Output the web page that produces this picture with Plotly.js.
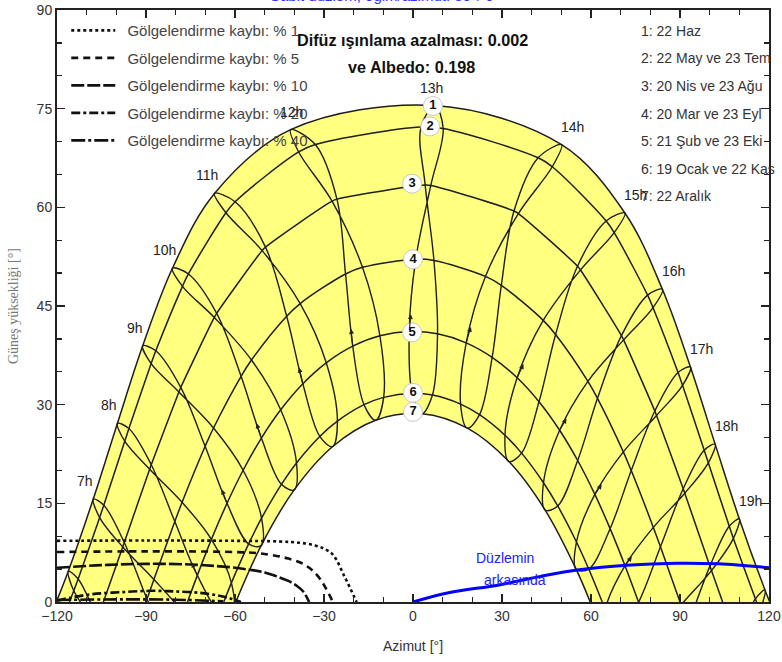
<!DOCTYPE html>
<html><head><meta charset="utf-8">
<script src="https://cdn.plot.ly/plotly-3.0.1.min.js"></script>
<style>body{margin:0;background:#fff}#c{width:782px;height:662px}</style>
</head><body><div id="c"></div>
<script>
// ---- hour of day (legal time) for the sun positions below
const hours = [6,7,8,9,10,11,12,13,14,15,16,17,18,19,20];

// ---- sun position (azimuth, elevation) per date
const az_22Haz = [-116.2,-107.78,-99.64,-91.11,-81.08,-66.91,-41.25,7.42,50.10,71.42,84.06,93.52,101.84,110.00,118.63];
const el_22Haz = [4.68,15.65,27.15,38.94,50.74,62.11,71.81,75.47,69.52,59.14,47.54,35.72,24.00,12.63,1.84];
const az_22May = [-112.87,-104.23,-95.76,-86.69,-75.70,-59.95,-32.93,10.17,46.94,67.81,80.92,90.86,99.55,108.0,116.92];
const el_22May = [3.5,14.72,26.37,38.19,49.87,60.86,69.55,71.97,66.17,56.14,44.74,32.94,21.16,9.67,-1.27];
const az_23Tem = [-114.35,-105.62,-97.17,-88.26,-77.70,-63.06,-38.54,2.67,42.20,65.11,79.08,89.35,98.16,106.61,115.40];
const el_23Tem = [1.72,12.84,24.44,36.25,47.99,59.17,68.42,72.2,67.53,57.92,46.65,34.88,23.08,11.52,0.48];
const az_20Nis = [-106.42,-97.32,-88.23,-78.29,-66.18,-49.72,-25.64,6.00,35.52,56.45,70.99,82.09,91.61,100.61,109.90];
const el_20Nis = [-2.52,9.05,20.87,32.62,43.89,53.95,61.25,63.33,59.05,50.48,39.85,28.35,16.54,4.77,-6.64];
const az_23Agu = [-106.96,-97.84,-88.77,-78.91,-66.98,-50.86,-27.29,4.11,34.04,55.45,70.26,81.51,91.08,100.09,109.34];
const el_23Agu = [-3.18,8.37,20.18,31.94,43.26,53.42,60.94,63.38,59.44,51.05,40.50,29.03,17.22,5.45,-5.99];
const az_20Mar = [-98.98,-89.65,-80.29,-70.07,-57.95,-42.58,-22.74,0.93,24.42,43.90,58.96,70.90,81.02,90.35,99.71];
const el_20Mar = [-11.34,0.45,12.23,23.67,34.31,43.44,49.86,52.12,49.50,42.82,33.55,22.82,11.34,-0.45,-12.23];
const az_23Eyl = [-96.59,-87.33,-77.83,-67.24,-54.45,-38.03,-17.03,7.06,29.77,48.07,62.19,73.57,83.41,92.67,102.17];
const el_23Eyl = [-8.39,3.43,15.16,26.45,36.79,45.37,50.88,51.91,48.14,40.67,30.96,19.98,8.39,-3.43,-15.16];
const az_21Sub = [-90.92,-81.86,-72.70,-62.69,-51.10,-37.13,-20.31,-1.27,17.93,35.11,49.43,61.30,71.46,80.69,89.72];
const el_21Sub = [-19.29,-7.49,4.05,15.01,24.92,33.18,38.89,41.12,39.40,34.09,26.11,16.36,5.52,-5.96,-17.75];
const az_23Eki = [-86.44,-77.43,-67.95,-57.26,-44.60,-29.24,-11.15,8.27,26.68,42.48,55.51,66.44,76.05,85.09,94.31];
const el_23Eki = [-13.49,-1.78,9.52,20.03,29.22,36.36,40.47,40.77,37.19,30.45,21.51,11.15,-0.05,-11.72,-23.55];
const az_19Oca = [-82.19,-73.77,-65.04,-55.41,-44.36,-31.42,-16.51,-0.25,16.04,31.00,43.99,55.10,64.76,73.51,81.93];
const el_19Oca = [-24.1,-12.53,-1.45,8.83,17.89,25.17,30.00,31.73,30.09,25.36,18.13,9.12,-1.13,-12.19,-23.75];
const az_22Kas = [-78.70,-70.23,-61.21,-51.05,-39.27,-25.48,-9.89,6.56,22.43,36.61,48.79,59.24,68.46,76.99,85.48];
const el_22Kas = [-19.27,-7.88,2.91,12.74,21.14,27.50,31.11,31.46,28.48,22.63,14.60,5.01,-5.62,-16.92,-28.6];
const az_22Ara = [-77.69,-69.52,-60.86,-51.19,-40.06,-27.16,-12.56,3.01,18.33,32.33,44.54,55.05,64.28,72.69,80.83];
const el_22Ara = [-23.35,-11.99,-1.25,8.57,17.04,23.61,27.64,28.63,26.43,21.35,13.98,4.93,-5.29,-16.3,-27.81];

// ---- sunrise / sunset azimuth of each of the 7 date curves (elevation 0)
const horizonAz = [120.26,115.81,104.37,90.0,76.01,63.79,59.74];
// ---- curve number labels
const curveLabels = ['1','2','3','4','5','6','7'];
const curveLabelAz = [6.7,5.8,-0.3,0,-0.3,0,0];
const curveLabelEl = [75.4,72.3,63.6,52.1,41.0,31.8,28.9];
const dateList = ['1: 22 Haz','2: 22 May ve 23 Tem','3: 20 Nis ve 23 Ağu','4: 20 Mar ve 23 Eyl','5: 21 Şub ve 23 Eki','6: 19 Ocak ve 22 Kas','7: 22 Aralık'];

// ---- shading loss curves (horizon / near shading)
const lossNames = ['Gölgelendirme kaybı: % 1','Gölgelendirme kaybı: % 5','Gölgelendirme kaybı: % 10','Gölgelendirme kaybı: % 20','Gölgelendirme kaybı: % 40'];
const loss1_az = [-120,-90,-60,-45,-38,-33,-30,-27,-23,-19];
const loss1_el = [9.3,9.35,9.3,9.2,9.0,8.6,8.1,7.2,3.8,0];
const loss5_az = [-120,-90,-60,-52,-46,-42,-38,-35,-33,-31,-29.5,-27];
const loss5_el = [7.6,7.7,7.6,7.4,7.0,6.6,6.0,5.2,4.4,3.3,2.2,0];
const loss10_az = [-120,-105,-90,-75,-62,-55,-50,-46,-42,-39,-37,-35];
const loss10_el = [5.2,5.6,5.8,5.7,5.3,4.9,4.5,3.9,3.2,2.4,1.6,0];
const loss20_az = [-120,-115,-108,-98,-88,-80,-72,-66,-62,-58];
const loss20_el = [0.2,0.7,1.2,1.5,1.7,1.6,1.4,1.0,0.6,0];
const loss40_az = [-120,-100,-80,-64];
const loss40_el = [0.3,0.4,0.35,0.1];

// ---- "behind the plane" limit
const plane_az = [0,12,29,43,56,72,89,103,120];
const plane_el = [0,1.4,2.6,3.9,4.9,5.6,5.9,5.8,5.2];

// ================= build =================
const D = (az,el)=>({az,el});
const d1=D(az_22Haz,el_22Haz), d2a=D(az_22May,el_22May), d2b=D(az_23Tem,el_23Tem),
      d3a=D(az_20Nis,el_20Nis), d3b=D(az_23Agu,el_23Agu), d4a=D(az_20Mar,el_20Mar),
      d4b=D(az_23Eyl,el_23Eyl), d5a=D(az_21Sub,el_21Sub), d5b=D(az_23Eki,el_23Eki),
      d6a=D(az_19Oca,el_19Oca), d6b=D(az_22Kas,el_22Kas), d7=D(az_22Ara,el_22Ara);
const curves = [[d1],[d2a,d2b],[d3a,d3b],[d4a,d4b],[d5a,d5b],[d6a,d6b],[d7]];

function curvePts(list,hz){
  const pts=[];
  list.forEach(d=>d.az.forEach((a,i)=>{ if(d.el[i]>=0) pts.push([a,d.el[i]]); }));
  pts.push([-hz,0],[hz,0]);
  pts.sort((p,q)=>p[0]-q[0]);
  return {x:pts.map(p=>p[0]), y:pts.map(p=>p[1])};
}
const LC='#1e1e1e';
const traces=[];
const c7=curvePts(curves[6],horizonAz[6]), c1=curvePts(curves[0],horizonAz[0]);
traces.push({x:c7.x,y:c7.y,mode:'lines',line:{width:0,shape:'spline'},showlegend:false,hoverinfo:'skip'});
traces.push({x:c1.x,y:c1.y,mode:'lines',line:{width:0,shape:'spline'},fill:'tonexty',fillcolor:'#ffff80',showlegend:false,hoverinfo:'skip'});
curves.forEach((list,k)=>{
  const c=curvePts(list,horizonAz[k]);
  traces.push({x:c.x,y:c.y,mode:'lines',line:{color:LC,width:1.5,shape:'spline'},showlegend:false,hoverinfo:'skip'});
});
const loop=[d1,d2a,d3a,d4a,d5a,d6a,d7,d6b,d5b,d4b,d3b,d2b,d1];
hours.forEach((h,i)=>{
  traces.push({x:loop.map(d=>d.az[i]),y:loop.map(d=>d.el[i]),mode:'lines',
    line:{color:LC,width:1.4,shape:'spline'},showlegend:false,hoverinfo:'skip'});
});
const lossSets=[[loss1_az,loss1_el,'dot'],[loss5_az,loss5_el,'7px,5px'],[loss10_az,loss10_el,'13px,3px'],
                [loss20_az,loss20_el,'9px,3px,3px,3px'],[loss40_az,loss40_el,'14px,3px,3px,3px']];
lossSets.forEach((s,k)=>{
  traces.push({x:s[0],y:s[1],mode:'lines',name:'\u00a0\u2009'+lossNames[k],legendgroup:'g'+k,
    line:{color:'#111',width:2.6,dash:s[2],shape:'spline'},hoverinfo:'skip'});
});
traces.push({x:plane_az,y:plane_el,mode:'lines',line:{color:'#0000ff',width:3,shape:'spline'},showlegend:false,hoverinfo:'skip'});
traces.push({x:curveLabelAz,y:curveLabelEl,text:curveLabels,mode:'markers+text',textposition:'middle center',
  marker:{size:19,color:'#ffffff',line:{color:'#c8c8c8',width:1}},
  textfont:{family:'Liberation Sans, Arial, sans-serif',size:13,color:'#111',weight:'bold'},
  showlegend:false,hoverinfo:'skip',cliponaxis:false});

const F='Liberation Sans, Arial, sans-serif';
const ann=[];
hours.forEach((h,i)=>{
  if(h<7||h>19) return;
  const morning = d1.az[i]<0;
  let xs = morning?-8:11;
  if(h===12) xs=1; if(h===13) xs=-4;
  ann.push({x:d1.az[i],y:d1.el[i],xref:'x',yref:'y',text:h+'h',showarrow:false,
    xshift:xs, yshift:18,font:{family:F,size:14,color:'#222'}});
});
// direction arrows on the spring branch, just above curve 5
hours.forEach((h,i)=>{
  if(d5a.el[i]<1) return;
  const t=0.24;
  const hx=d5a.az[i]+t*(d4a.az[i]-d5a.az[i]), hy=d5a.el[i]+t*(d4a.el[i]-d5a.el[i]);
  ann.push({x:hx,y:hy,ax:d5a.az[i],ay:d5a.el[i],xref:'x',yref:'y',axref:'x',ayref:'y',text:'',
    showarrow:true,arrowhead:2,arrowsize:0.9,arrowwidth:1.1,arrowcolor:'#222'});
});
const px=(x)=>(x-57)/712, py=(y)=>1-(y-10)/592;
dateList.forEach((t,k)=>{
  ann.push({x:px(639),y:py(31+k*27.5),xref:'paper',yref:'paper',text:t,showarrow:false,xanchor:'left',yanchor:'middle',
    font:{family:F,size:14,color:'#333'}});
});
ann.push({x:px(412),y:py(40),xref:'paper',yref:'paper',yanchor:'middle',text:'Difüz ışınlama azalması: 0.002',showarrow:false,
  font:{family:F,size:16.2,color:'#111',weight:'bold'}});
ann.push({x:px(411),y:py(67),xref:'paper',yref:'paper',yanchor:'middle',text:'ve Albedo: 0.198',showarrow:false,
  font:{family:F,size:16.2,color:'#111',weight:'bold'}});
ann.push({x:31,y:6.7,xref:'x',yref:'y',text:'Düzlemin',showarrow:false,font:{family:F,size:14,color:'#2020ff'}});
ann.push({x:34.5,y:3.3,xref:'x',yref:'y',text:'arkasında',showarrow:false,font:{family:F,size:14,color:'#2020ff'}});
ann.push({x:px(385),y:1,xref:'paper',yref:'paper',yanchor:'bottom',yshift:3.5,text:'Sabit düzlem, eğim/azimut: 30°/ 0°',
  showarrow:false,font:{family:F,size:15,color:'#3030ff'}});
ann.push({x:-0.075,y:0.5,xref:'paper',yref:'paper',text:'Güneş yüksekliği [°]',textangle:-90,showarrow:false,
  font:{family:'Liberation Serif, Times New Roman, serif',size:14,color:'#777'}});

const axisCommon={showgrid:false,zeroline:false,showline:true,linecolor:'#222',linewidth:2,mirror:'ticks',
  ticks:'inside',ticklen:8,tickwidth:1.3,tickcolor:'#222',tickfont:{family:F,size:14,color:'#333'}};
const layout={
  width:782,height:662,margin:{l:57,r:13,t:10,b:60},paper_bgcolor:'#fff',plot_bgcolor:'#fff',
  xaxis:Object.assign({},axisCommon,{range:[-120,120],tick0:-120,dtick:30,
    minor:{dtick:10,ticks:'inside',ticklen:5,tickcolor:'#222'},
    title:{text:'Azimut [°]',font:{family:F,size:14,color:'#333'},standoff:18}}),
  yaxis:Object.assign({},axisCommon,{range:[0,90],tick0:0,dtick:15,
    minor:{dtick:5,ticks:'inside',ticklen:5,tickcolor:'#222'}}),
  showlegend:true,
  legend:{x:0.013,y:0.993,xanchor:'left',yanchor:'top',bgcolor:'rgba(0,0,0,0)',font:{family:F,size:15,color:'#444'},
    tracegroupgap:5,itemwidth:44,traceorder:'grouped'},
  annotations:ann
};
Plotly.newPlot('c',traces,layout,{staticPlot:true,displayModeBar:false});
</script></body></html>
